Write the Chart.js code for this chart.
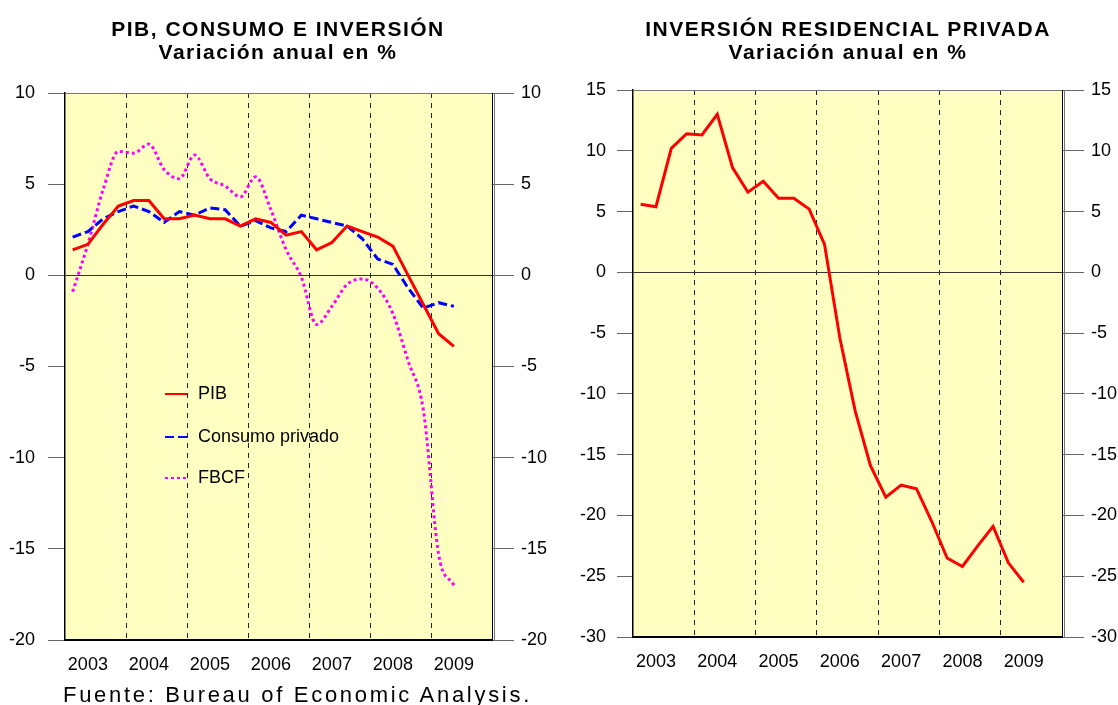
<!DOCTYPE html>
<html lang="es">
<head>
<meta charset="UTF-8">
<title>PIB, consumo e inversión</title>
<script src="https://cdn.jsdelivr.net/npm/chart.js"></script>
<style>
    body {
        margin: 0;
        background: #fff;
        font-family: 'Liberation Sans', Arial, sans-serif;
    }
    .page {
        position: relative;
        width: 1118px;
        height: 705px;
        overflow: hidden;
    }
    .box {
        position: absolute;
        top: 0;
    }
    .title {
        position: absolute;
        top: 17px;
        text-align: center;
        font-weight: bold;
        font-size: 21px;
        line-height: 23px;
        letter-spacing: 1.5px;
        white-space: nowrap;
    }
    .footer {
        position: absolute;
        left: 63px;
        top: 682px;
        font-size: 22px;
        line-height: 25px;
        letter-spacing: 2.7px;
        white-space: nowrap;
    }
</style>
</head>
<body>
<div class="page">
    <div class="box" style="left:0; width:560px;"><canvas id="chartLeft" width="560" height="705"></canvas></div>
    <div class="box" style="left:560px; width:558px;"><canvas id="chartRight" width="558" height="705"></canvas></div>

    <div class="title" style="left:0; width:556px;">PIB, CONSUMO E INVERSIÓN<br>Variación anual en %</div>
    <div class="title" style="left:600px; width:496px;">INVERSIÓN RESIDENCIAL PRIVADA<br>Variación anual en %</div>
    <div class="footer">Fuente: Bureau of Economic Analysis.</div>
</div>

<script>
    // quarterly axis, 2003 Q1 .. 2009 Q4 (data stops at 2009 Q2)
    const years = ["2003", "2004", "2005", "2006", "2007", "2008", "2009"];
    const quarters = ["I", "II", "III", "IV"];

    // left chart, % yoy
    const pib = [1.4, 1.7, 2.8, 3.8, 4.1, 4.1, 3.1, 3.1, 3.3, 3.1, 3.1, 2.7, 3.1, 2.9, 2.2, 2.4,
                 1.4, 1.8, 2.7, 2.4, 2.1, 1.6, 0.0, -1.6, -3.2, -3.9];
    const consumo = [2.1, 2.4, 3.1, 3.5, 3.8, 3.5, 2.9, 3.5, 3.3, 3.7, 3.6, 2.7, 3.0, 2.6, 2.4, 3.3,
                     3.1, 2.9, 2.7, 2.0, 0.9, 0.6, -0.7, -1.8, -1.5, -1.7];
    const fbcf = [-0.9, 1.7, 4.7, 6.8, 6.7, 7.2, 5.8, 5.3, 6.6, 5.3, 4.9, 4.3, 5.4, 3.6, 1.4, -0.1,
                  -2.7, -1.7, -0.5, -0.2, -0.7, -2.1, -4.7, -7.4, -15.3, -17.0];

    // right chart, % yoy
    const residencial = [5.6, 5.4, 10.2, 11.4, 11.3, 13.0, 8.6, 6.6, 7.5, 6.1, 6.1, 5.2, 2.3, -5.4, -11.4, -15.9,
                         -18.5, -17.5, -17.8, -20.5, -23.5, -24.2, -22.5, -20.9, -23.9, -25.5];

    const labels = [];
    years.forEach(y => quarters.forEach(q => labels.push(q + " " + y)));

    Chart.defaults.font.family = "'Liberation Sans', Arial, sans-serif";
    Chart.defaults.font.size = 18;
    Chart.defaults.color = "#000";

    // yellow plot background + top border and double right border
    const plotFrame = {
        id: "plotFrame",
        beforeDraw(chart) {
            const { ctx, chartArea: a } = chart;
            ctx.save();
            ctx.fillStyle = "#FFFFC2";
            ctx.fillRect(a.left, a.top, a.right - a.left, a.bottom - a.top);
            ctx.restore();
        },
        afterDraw(chart) {
            const { ctx, chartArea: a } = chart;
            ctx.save();
            ctx.strokeStyle = "#777";
            ctx.lineWidth = 1;
            ctx.beginPath();
            ctx.moveTo(a.left, a.top + 0.5);
            ctx.lineTo(a.right, a.top + 0.5);
            ctx.moveTo(a.right + 2.5, a.top);
            ctx.lineTo(a.right + 2.5, a.bottom);
            ctx.stroke();
            ctx.restore();
        }
    };

    // legend drawn inside the plot
    const innerLegend = {
        id: "innerLegend",
        afterDatasetsDraw(chart, args, opts) {
            if (!opts.rows) return;
            const ctx = chart.ctx;
            chart.data.datasets.forEach((ds, i) => {
                const y = opts.rows[i];
                ctx.save();
                ctx.strokeStyle = ds.borderColor;
                ctx.lineWidth = 2;
                ctx.setLineDash(ds.borderDash || []);
                ctx.beginPath();
                ctx.moveTo(opts.x, y);
                ctx.lineTo(opts.x + 22, y);
                ctx.stroke();
                ctx.setLineDash([]);
                ctx.fillStyle = "#000";
                ctx.font = "18px 'Liberation Sans', Arial, sans-serif";
                ctx.textBaseline = "middle";
                ctx.fillText(ds.label, opts.x + 33, y);
                ctx.restore();
            });
        }
    };

    function makeScales(min, max, leftW, rightW, leftTick, leftPad, bottomH) {
        return {
            x: {
                type: "category",
                offset: true,
                grid: {
                    display: true,
                    offset: true,
                    drawTicks: false,
                    lineWidth: 1,
                    color: c => (c.index > 0 && c.index % 4 === 0 && c.index < labels.length) ? "#222" : "transparent"
                },
                border: { display: true, color: "#000", width: 2, dash: [5, 5] },
                ticks: {
                    autoSkip: false,
                    maxRotation: 0,
                    minRotation: 0,
                    padding: 14,
                    callback: (v, i) => i % 4 === 1 ? years[Math.floor(i / 4)] : ""
                },
                afterFit: s => { s.height = bottomH; }
            },
            y: {
                position: "left",
                min: min,
                max: max,
                grid: {
                    drawOnChartArea: true,
                    color: c => (c.tick && c.tick.value === 0) ? "#333" : "transparent",
                    tickColor: "#666",
                    tickLength: leftTick
                },
                border: { display: true, color: "#000", width: 1.5 },
                ticks: { stepSize: 5, padding: leftPad },
                afterFit: s => { s.width = leftW; }
            },
            y2: {
                position: "right",
                min: min,
                max: max,
                grid: {
                    drawOnChartArea: false,
                    color: "#666",
                    tickColor: "#666",
                    tickLength: 22
                },
                border: { display: true, color: "#000", width: 1 },
                ticks: { stepSize: 5, padding: 7 },
                afterFit: s => { s.width = rightW; }
            }
        };
    }

    new Chart(document.getElementById("chartLeft"), {
        type: "line",
        data: {
            labels: labels,
            datasets: [
                {
                    label: "PIB",
                    data: pib,
                    borderColor: "#FF0000",
                    borderWidth: 3,
                    pointRadius: 0,
                    fill: false
                },
                {
                    label: "Consumo privado",
                    data: consumo,
                    borderColor: "#0000FF",
                    borderWidth: 3,
                    borderDash: [9, 4],
                    pointRadius: 0,
                    fill: false
                },
                {
                    label: "FBCF",
                    data: fbcf,
                    borderColor: "#FF00FF",
                    borderWidth: 3,
                    borderDash: [3, 3],
                    cubicInterpolationMode: "monotone",
                    pointRadius: 0,
                    fill: false
                }
            ]
        },
        options: {
            responsive: false,
            animation: false,
            layout: { padding: { top: 93, left: 0, right: 0, bottom: 0 } },
            plugins: {
                legend: { display: false },
                tooltip: { enabled: false },
                innerLegend: { x: 165, rows: [394, 437, 478] }
            },
            scales: makeScales(-20, 10, 65, 68, 17, 13, 65)
        },
        plugins: [plotFrame, innerLegend]
    });

    new Chart(document.getElementById("chartRight"), {
        type: "line",
        data: {
            labels: labels,
            datasets: [
                {
                    label: "Inversión residencial privada",
                    data: residencial,
                    borderColor: "#FF0000",
                    borderWidth: 3,
                    pointRadius: 0,
                    fill: false
                }
            ]
        },
        options: {
            responsive: false,
            animation: false,
            layout: { padding: { top: 90, left: 0, right: 0, bottom: 0 } },
            plugins: {
                legend: { display: false },
                tooltip: { enabled: false }
            },
            scales: makeScales(-30, 15, 73, 56, 16, 11, 68)
        },
        plugins: [plotFrame]
    });
</script>
</body>
</html>
